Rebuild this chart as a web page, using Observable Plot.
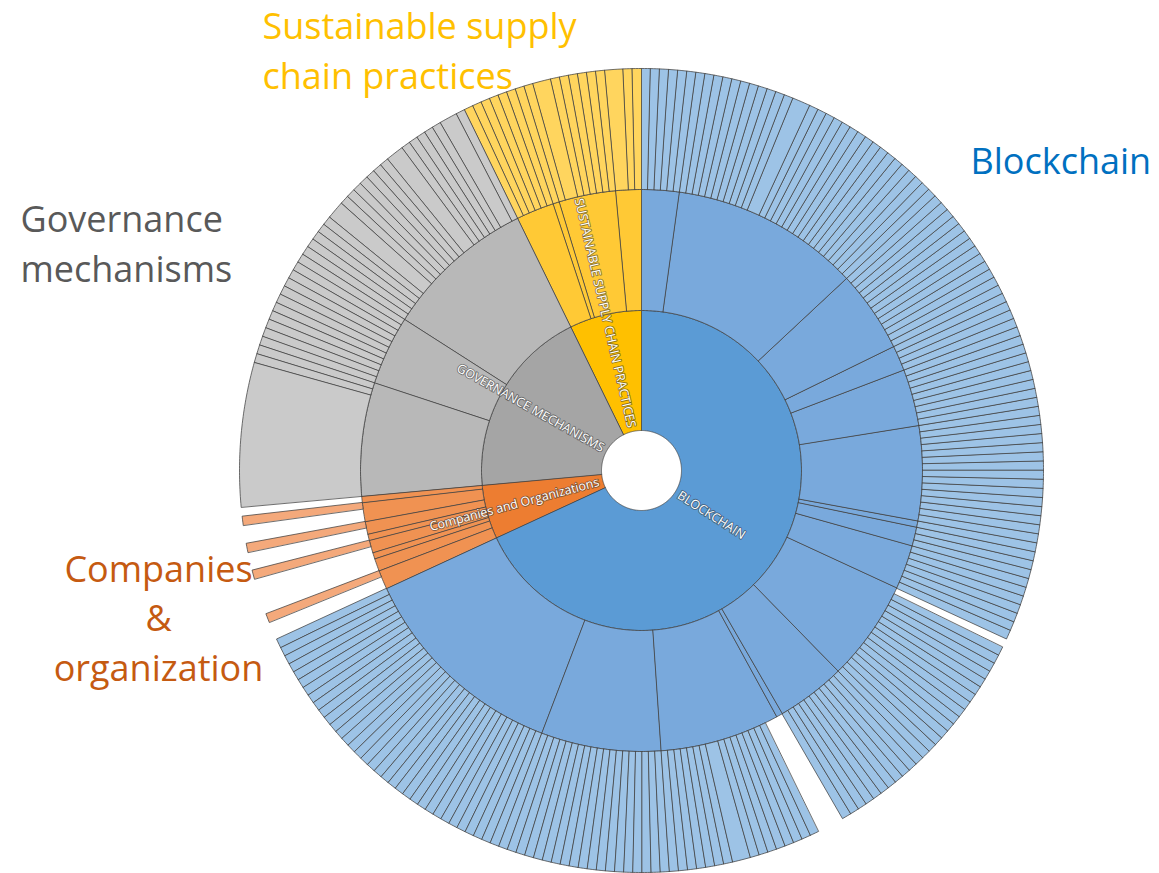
<!DOCTYPE html>
<html>
<head>
<meta charset="utf-8">
<script src="https://cdn.jsdelivr.net/npm/d3@7"></script>
<script src="https://cdn.jsdelivr.net/npm/@observablehq/plot@0.6"></script>
<style>
  html, body { margin: 0; padding: 0; background: #fff; }
  #chart svg { display: block; }
</style>
</head>
<body>
<div id="chart"></div>
<script>
// ---------- DATA ----------
const categories = ["Blockchain", "Companies and Organizations", "Governance mechanisms", "Sustainable supply chain practices"];
const ringLabels = ["BLOCKCHAIN", "Companies and Organizations", "GOVERNANCE MECHANISMS", "SUSTAINABLE SUPPLY CHAIN PRACTICES"];
const outerLabels = ["Blockchain", "Companies\n&\norganization", "Governance\nmechanisms", "Sustainable supply\nchain practices"];

// second ring: sub-topic sizes per category
const subtopicValues = [
  [6, 30, 13, 4, 9, 15, 1, 3, 7, 16, 11, 1, 19, 19, 34],
  [3, 2, 1, 2, 1, 2, 3, 1],
  [18, 11, 24],
  [6, 1, 9, 4]
];

// outer ring: leaf sizes per sub-topic (negative = empty slot)
const blockchainLeaves = [
  [1,1,1,1,1,1],
  [1,1,1,1,1,1,1,1,1,1,1,2,1,1,1,1,1,1,1,1,1,1,1,1,1,1,1,1,1],
  [1,1,1,1,1,1,1,1,1,1,1,1,1],
  [1,1,1,1],
  [1,1,1,1,1,1,1,1,1],
  [1,1,1,1,1,1,1,1,1,1,1,1,1,1,1],
  [1],
  [1,1,1],
  [1,1,1,1,1,1,1],
  [-1,1,1,1,1,1,1,1,1,1,1,1,1,1,1,1],
  [1,1,1,1,1,1,1,1,1,1,1],
  [],
  [-2,1,1,1,1,1,1,1,1,2,1,1,1,1,1,1,1],
  [1,1,1,1,1,1,1,1,1,1,1,1,1,1,1,1,1,1,1],
  [1,1,1,1,1,1,1,1,1,1,1,1,1,1,1,1,1,1,1,1,1,1,1,1,1,1,1,1,1,1,1,1,1,1]
];
const companiesLeaves = [[-2,1], [], [], [-1,1], [], [-1,1], [-2,1], []];
const governanceLeaves = [
  [16,1,1],
  [1,1,1,1,1,1,1,1,1,1,1],
  [1,1,1,1,1,2,1,1,1,1,1,1,1,2,1,1,1,1,1,2,1]
];
const sustainableLeaves = [[1,1,1,1,1,1], [1], [1,2,1,1,1,1,1,1], [2,1,1]];
const leafValues = [blockchainLeaves, companiesLeaves, governanceLeaves, sustainableLeaves];

// ---------- STYLE / LAYOUT ----------
const depthColors = [
  ["#5B9BD5", "#ED7D31", "#A5A5A5", "#FFC000"],
  ["#79A9DC", "#F09252", "#B8B8B8", "#FFC935"],
  ["#9DC3E6", "#F4A97B", "#CACACA", "#FFD55E"]
];
const outerLabelColors = ["#0070C0", "#C55A11", "#595959", "#FFC000"];
const radii = [40, 160, 281, 402];
const W = 1159, H = 873, CX = 641, CY = 470;
// annotation anchor points (pixel offsets from chart centre)
const outerLabelLayout = [
  {x: 329, y: -297, anchor: "start"},
  {x: -483, y: 210, anchor: "middle"},
  {x: -621, y: -189, anchor: "start"},
  {x: -379, y: -382, anchor: "start"}
];

// ---------- PARTITION ----------
const total = d3.sum(subtopicValues.flat());
const deg = v => v / total * 360;
const segments = [];
let c1 = 0;
categories.forEach((cat, i) => {
  const v1 = d3.sum(subtopicValues[i]);
  segments.push({id: `c${i}`, depth: 0, cat: i, a0: deg(c1), a1: deg(c1 + v1)});
  let c2 = c1;
  subtopicValues[i].forEach((v2, j) => {
    segments.push({id: `c${i}s${j}`, depth: 1, cat: i, a0: deg(c2), a1: deg(c2 + v2)});
    let c3 = c2;
    leafValues[i][j].forEach((v3, k) => {
      const w = Math.abs(v3);
      if (v3 > 0) segments.push({id: `c${i}s${j}l${k}`, depth: 2, cat: i, a0: deg(c3), a1: deg(c3 + w)});
      c3 += w;
    });
    c2 += v2;
  });
  c1 += v1;
});

const rad = a => a * Math.PI / 180;
const pts = [];
for (const s of segments) {
  const r0 = radii[s.depth], r1 = radii[s.depth + 1];
  const n = Math.max(2, Math.ceil((s.a1 - s.a0) / 0.5));
  const fill = depthColors[s.depth][s.cat];
  for (let i = 0; i <= n; i++) {
    const a = rad(s.a0 + (s.a1 - s.a0) * i / n);
    pts.push({id: s.id, x: r1 * Math.sin(a), y: -r1 * Math.cos(a), fill});
  }
  for (let i = n; i >= 0; i--) {
    const a = rad(s.a0 + (s.a1 - s.a0) * i / n);
    pts.push({id: s.id, x: r0 * Math.sin(a), y: -r0 * Math.cos(a), fill});
  }
}

// ring-1 labels, radial at mid-angle
const labelR = 44;
const ringLabelData = segments.filter(s => s.depth === 0).map(s => {
  const mid = (s.a0 + s.a1) / 2;
  const right = mid < 180;
  return {
    text: ringLabels[s.cat],
    x: labelR * Math.sin(rad(mid)),
    y: -labelR * Math.cos(rad(mid)),
    rotate: right ? mid - 90 : mid - 270,
    right
  };
});

const outerLabelData = categories.map((c, i) => ({
  text: outerLabels[i], color: outerLabelColors[i], ...outerLabelLayout[i]
}));

const ringTextStyle = {
  x: "x", y: "y", text: "text", rotate: "rotate",
  fill: "white", fontSize: 12.5, fontFamily: "Open Sans",
  stroke: "#333333", strokeWidth: 1.8, strokeOpacity: 0.55
};

const chart = Plot.plot({
  width: W, height: H, margin: 0,
  x: {domain: [-CX, W - CX], range: [0, W], axis: null},
  y: {domain: [-CY, H - CY], range: [0, H], axis: null},
  color: {type: "identity"},
  style: {background: "white"},
  marks: [
    Plot.line(pts, {x: "x", y: "y", z: "id", fill: "fill", stroke: "#404040", strokeWidth: 0.75, curve: "linear-closed"}),
    Plot.text(ringLabelData.filter(d => d.right), {...ringTextStyle, textAnchor: "start"}),
    Plot.text(ringLabelData.filter(d => !d.right), {...ringTextStyle, textAnchor: "end"}),
    ...outerLabelData.map(d => Plot.text([d], {
      x: "x", y: "y", text: "text", fill: d.color, textAnchor: d.anchor,
      lineAnchor: "bottom", lineHeight: 1.37, fontSize: 36, fontFamily: "Open Sans"
    }))
  ]
});
document.getElementById("chart").appendChild(chart);
</script>
</body>
</html>
